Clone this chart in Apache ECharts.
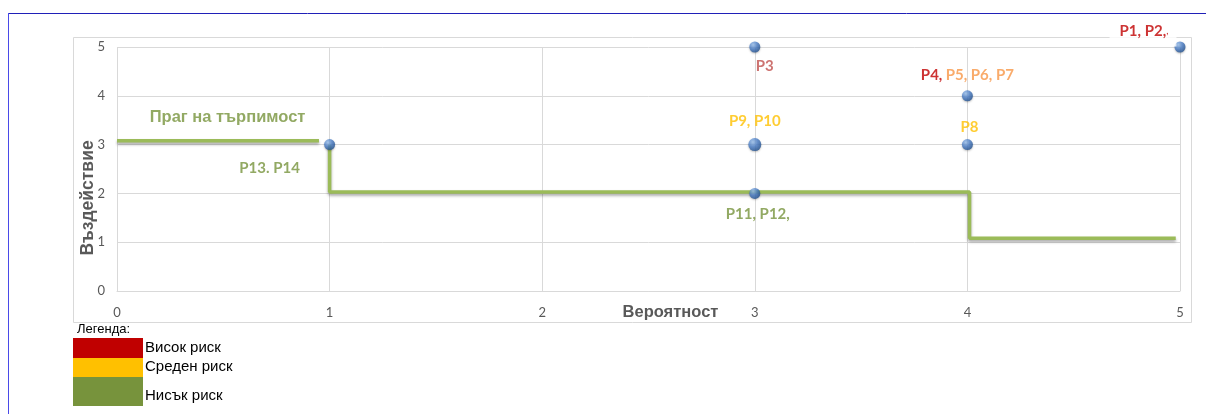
<!DOCTYPE html>
<html>
<head>
<meta charset="utf-8">
<script src="https://cdn.jsdelivr.net/npm/echarts@6/dist/echarts.min.js"></script>
<style>
  html, body { margin: 0; padding: 0; background: #fff; }
  #chart { width: 1206px; height: 414px; }
</style>
</head>
<body>
<div id="chart"></div>
<script>
// оси
var xTicks = [0, 1, 2, 3, 4, 5];
var yTicks = [0, 1, 2, 3, 4, 5];
var xName = 'Вероятност';
var yName = 'Въздействие';

// рискове (вероятност, въздействие)
var riskPoints = [[1, 3], [3, 5], [3, 3], [3, 2], [4, 4], [4, 3], [5, 5]];
var riskLabels = ['{g|P13. P14}', '{b|P3}', '{y|P9, P10}', '{g|P11, P12,}', '{r|P4,} {o|P5, P6, P7}', '{y|P8}', '{r|P1, P2,}{s|,}'];

// праг на търпимост
var thresholdA = [[0, 3.08], [0.95, 3.08]];
var thresholdB = [[1, 3], [1, 2.03], [4.01, 2.03], [4.01, 1.08], [4.98, 1.08]];
var thresholdText = 'Праг на търпимост';
var thresholdTextAt = [0.52, 3.55];

// легенда
var legendTitle = 'Легенда:';
var legendNames = ['Висок риск', 'Среден риск', 'Нисък риск'];
var legendColors = ['#C00000', '#FFC000', '#77933C'];

var labelPos = [
    {position: 'bottom', offset: [-60, 6]},
    {position: 'bottom', offset: [10, 1]},
    {position: 'top', offset: [0, -4]},
    {position: 'bottom', offset: [3, 3]},
    {position: 'top', offset: [0, -3]},
    {position: 'top', offset: [2, 1]},
    {position: 'top', offset: [-37, 10]}
];

var chartDom = document.getElementById('chart');
var myChart = echarts.init(chartDom);
var option;

var ball = {
    type: 'radial', x: 0.35, y: 0.3, r: 0.75,
    colorStops: [{offset: 0, color: '#9DC3F0'}, {offset: 0.5, color: '#4A7EC8'}, {offset: 1, color: '#1F4E8C'}]
};

var pointData = riskPoints.map(function (p, i) {
    var item = {
        value: p,
        symbolSize: (i === 2) ? 13 : 11,
        label: {
            show: true,
            formatter: riskLabels[i],
            position: labelPos[i].position,
            offset: labelPos[i].offset
        }
    };
    if (i === 6) {
        item.label.backgroundColor = '#fff';
        item.label.padding = [4, 8, 8, 10];
    }
    return item;
});

var rich = {
    r: {color: '#C00000', fontWeight: 'bold', fontSize: 15, fontFamily: 'Lato'},
    o: {color: '#F79646', fontWeight: 'bold', fontSize: 15, fontFamily: 'Lato'},
    y: {color: '#FFC000', fontWeight: 'bold', fontSize: 15, fontFamily: 'Lato'},
    g: {color: '#77933C', fontWeight: 'bold', fontSize: 15, fontFamily: 'Lato'},
    b: {color: '#C0504D', fontWeight: 'bold', fontSize: 15, fontFamily: 'Lato'},
    s: {color: '#C00000', fontSize: 10, fontFamily: 'Lato'}
};

var lineStyle = {
    color: '#9BBB59', width: 3.5,
    shadowColor: 'rgba(0,0,0,0.35)', shadowBlur: 3, shadowOffsetY: 2
};

var legendGraphics = [
    {type: 'text', left: 77, top: 323, style: {text: legendTitle, font: '13px "Liberation Sans"', fill: '#000'}}
];
var boxH = [20, 19, 29];
var yy = 338;
legendNames.forEach(function (n, i) {
    legendGraphics.push({type: 'rect', shape: {x: 73, y: yy, width: 70, height: boxH[i]}, style: {fill: legendColors[i]}});
    legendGraphics.push({type: 'text', left: 145, top: yy + boxH[i] - 18, style: {text: n, font: '15px "Liberation Sans"', fill: '#000'}});
    yy += boxH[i];
});

option = {
    animation: false,
    backgroundColor: '#fff',
    grid: {left: 117, right: 26, top: 47, bottom: 123, containLabel: false},
    xAxis: {
        type: 'value', min: xTicks[0], max: xTicks[xTicks.length - 1], interval: 1,
        name: xName, nameLocation: 'middle', nameGap: 13, nameMoveOverlap: false,
        nameTextStyle: {color: '#595959', fontWeight: 'bold', fontSize: 16.5, fontFamily: 'Liberation Sans', padding: [0, 0, 0, 44]},
        axisLine: {show: true, lineStyle: {color: '#D9D9D9'}},
        axisTick: {show: false},
        axisLabel: {color: '#595959', fontSize: 13, fontFamily: 'Lato', margin: 15},
        splitLine: {show: true, lineStyle: {color: '#D9D9D9'}}
    },
    yAxis: {
        type: 'value', min: yTicks[0], max: yTicks[yTicks.length - 1], interval: 1,
        name: yName, nameLocation: 'middle', nameGap: 20, nameRotate: 90, nameMoveOverlap: false,
        nameTextStyle: {color: '#595959', fontWeight: 'bold', fontSize: 17.5, fontFamily: 'Liberation Sans', padding: [0, 58, 0, 0]},
        axisLine: {show: false},
        axisTick: {show: false},
        axisLabel: {color: '#595959', fontSize: 13, fontFamily: 'Lato', margin: 12},
        splitLine: {show: true, lineStyle: {color: '#D9D9D9'}}
    },
    graphic: [
        {type: 'rect', z: 0, shape: {x: 73.5, y: 37.5, width: 1118, height: 285}, style: {fill: 'none', stroke: '#D9D9D9', lineWidth: 1}},
        {type: 'line', shape: {x1: 8, y1: 13.5, x2: 1206, y2: 13.5}, style: {stroke: '#2020B8', lineWidth: 1}},
        {type: 'line', shape: {x1: 8.5, y1: 13, x2: 8.5, y2: 414}, style: {stroke: '#4A4AE8', lineWidth: 1}}
    ].concat(legendGraphics),
    series: [
        {type: 'line', data: thresholdA, symbol: 'none', lineStyle: lineStyle, z: 3},
        {type: 'line', data: thresholdB, symbol: 'none', lineStyle: lineStyle, z: 3},
        {
            type: 'scatter', data: [thresholdTextAt], symbolSize: 0, z: 4,
            label: {show: true, position: 'inside', formatter: thresholdText, color: '#77933C', fontWeight: 'bold', fontSize: 16.5, fontFamily: 'Liberation Sans'}
        },
        {
            type: 'scatter', data: pointData, z: 5,
            itemStyle: {color: ball, shadowColor: 'rgba(0,0,0,0.3)', shadowBlur: 2, shadowOffsetY: 1},
            label: {rich: rich}
        }
    ]
};
option && myChart.setOption(option);
</script>
</body>
</html>
